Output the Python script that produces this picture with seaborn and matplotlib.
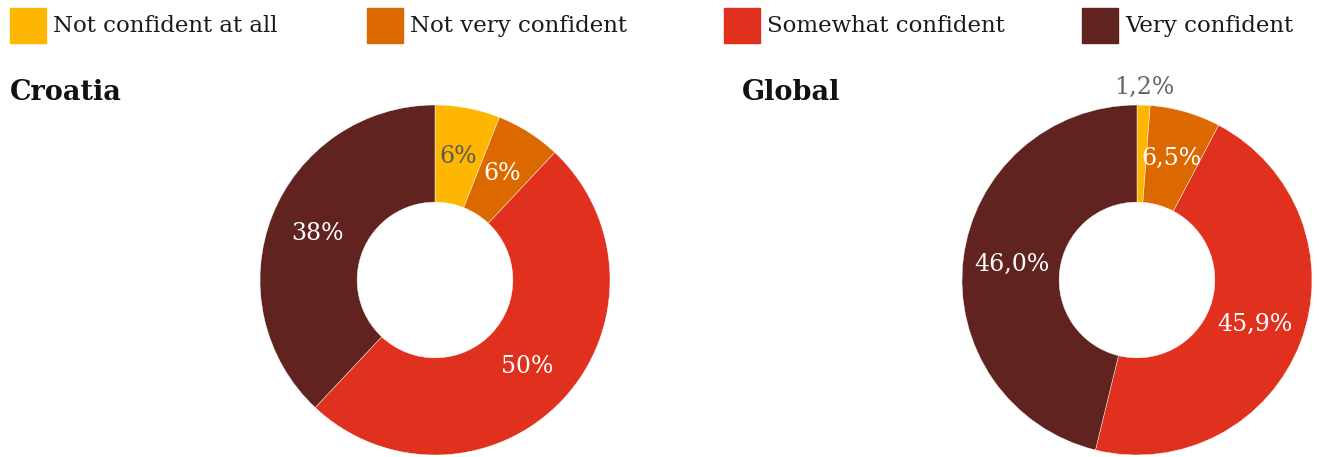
import math
import matplotlib
matplotlib.use("Agg")
import matplotlib.pyplot as plt
import seaborn as sns
from matplotlib.patches import Rectangle

sns.set_theme(style="white")
plt.rcParams["font.family"] = ["DejaVu Serif"]

categories = ["Not confident at all", "Not very confident", "Somewhat confident", "Very confident"]
croatia_values = [6, 6, 50, 38]
croatia_labels = ["6%", "6%", "50%", "38%"]
global_values = [1.2, 6.5, 45.9, 46.0]
global_labels = ["1,2%", "6,5%", "45,9%", "46,0%"]

colors = ["#FFB600", "#DC6900", "#E0301E", "#602320"]
label_colors = ["#595959", "white", "white", "white"]

W, H = 1319, 457
fig = plt.figure(figsize=(W / 100, H / 100), dpi=100)
fig.patch.set_facecolor("white")


def px_axes(x0, y0, w, h):
    """Axes placed by pixel box (top-left origin)."""
    return fig.add_axes([x0 / W, (H - y0 - h) / H, w / W, h / H])


def donut(ax, values, labels, outside=()):
    ax.pie(values, colors=colors, startangle=90, counterclock=False,
           radius=1.0, wedgeprops=dict(width=0.555, edgecolor="white", linewidth=0.3))
    total = sum(values)
    cum = 0.0
    for i, (v, lab) in enumerate(zip(values, labels)):
        mid = (cum + v / 2) / total * 360
        cum += v
        ang = math.radians(90 - mid)
        r = 1.10 if i in outside else 0.72
        col = "#666666" if i in outside else label_colors[i]
        ax.text(r * math.cos(ang), r * math.sin(ang), lab, ha="center", va="center",
                fontsize=17, color=col)
    ax.set_xlim(-1, 1)
    ax.set_ylim(-1, 1)
    ax.set_aspect("equal")
    ax.axis("off")


ax1 = px_axes(260, 105, 350, 350)
donut(ax1, croatia_values, croatia_labels)
ax2 = px_axes(962, 105, 350, 350)
donut(ax2, global_values, global_labels, outside=(0,))

# legend row
for x, c, name in zip([10, 367, 724, 1082], colors, categories):
    fig.patches.append(Rectangle((x / W, (H - 43) / H), 36 / W, 35 / H,
                                 transform=fig.transFigure, color=c, figure=fig))
    fig.text((x + 43) / W, (H - 26) / H, name, ha="left", va="center",
             fontsize=16.5, color="#1a1a1a")

fig.text(10 / W, (H - 93) / H, "Croatia", ha="left", va="center",
         fontsize=19.5, fontweight="bold", color="#111111")
fig.text(742 / W, (H - 93) / H, "Global", ha="left", va="center",
         fontsize=19.5, fontweight="bold", color="#111111")

fig.savefig("out.png", dpi=100, facecolor="white")
